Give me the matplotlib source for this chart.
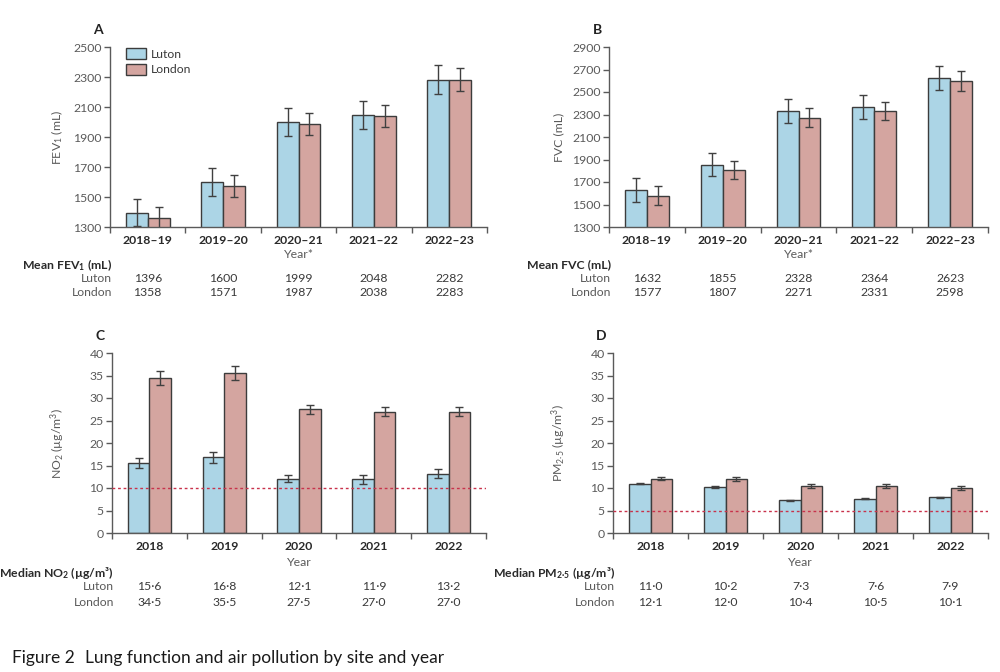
import matplotlib
matplotlib.use('Agg')
import matplotlib.pyplot as plt
from matplotlib import transforms
import numpy as np

plt.rcParams['font.family'] = ['Lato', 'DejaVu Sans']
plt.rcParams['mathtext.fontset'] = 'custom'
plt.rcParams['mathtext.rm'] = 'Lato'
plt.rcParams['mathtext.bf'] = 'Lato:bold'
plt.rcParams['mathtext.it'] = 'Lato:italic'

# data
years_lung = ['2018–19', '2019–20', '2020–21', '2021–22', '2022–23']
years_air = ['2018', '2019', '2020', '2021', '2022']

fev1_luton = [1396, 1600, 1999, 2048, 2282]
fev1_london = [1358, 1571, 1987, 2038, 2283]
fev1_luton_err = [92, 92, 93, 93, 96]
fev1_london_err = [72, 74, 75, 74, 75]

fvc_luton = [1632, 1855, 2328, 2364, 2623]
fvc_london = [1577, 1807, 2271, 2331, 2598]
fvc_luton_err = [107, 106, 106, 105, 109]
fvc_london_err = [85, 83, 84, 83, 85]

no2_luton = [15.6, 16.8, 12.1, 11.9, 13.2]
no2_london = [34.5, 35.5, 27.5, 27.0, 27.0]
no2_luton_err = [1.1, 1.2, 0.75, 0.9, 1.0]
no2_london_err = [1.6, 1.6, 0.95, 1.0, 1.0]

pm25_luton = [11.0, 10.2, 7.3, 7.6, 7.9]
pm25_london = [12.1, 12.0, 10.4, 10.5, 10.1]
pm25_luton_err = [0.15, 0.15, 0.1, 0.1, 0.1]
pm25_london_err = [0.4, 0.45, 0.4, 0.45, 0.45]

no2_limit = 10
pm25_limit = 5

BLUE = '#acd5e6'
PINK = '#d4a5a0'
EDGE = '#3c3c3c'
GREY = '#5a5a5a'
RED = '#c8324b'

fig = plt.figure(figsize=(10, 6.72), dpi=100)


def fy(py):
    return 1 - py / 672.0


def panel(left, right, top, bottom, letter, cats, luton, london, lerr, derr,
          ylim, ystep, ylabel, xlabel, header, fmt, rows_y, limit=None, legend=False):
    ax = fig.add_axes([left / 1000, fy(bottom), (right - left) / 1000, (bottom - top) / 672])
    x = np.arange(len(cats))
    w = 0.29
    ekw = dict(ecolor='#404040', elinewidth=1, capsize=3, capthick=1)
    ax.bar(x - w / 2, luton, w, bottom=0, color=BLUE, edgecolor=EDGE, linewidth=1,
           yerr=lerr, error_kw=ekw, label='Luton', zorder=2)
    ax.bar(x + w / 2, london, w, bottom=0, color=PINK, edgecolor=EDGE, linewidth=1,
           yerr=derr, error_kw=ekw, label='London', zorder=2)
    if limit is not None:
        ax.axhline(limit, color=RED, linestyle=(0, (2, 2)), linewidth=1, zorder=3)
    ax.set_xlim(-0.5, len(cats) - 0.5)
    ax.set_ylim(*ylim)
    ax.set_yticks(np.arange(ylim[0], ylim[1] + 1, ystep))
    ax.set_xticks(np.arange(-0.5, len(cats), 1))
    ax.set_xticklabels([])
    ax.set_xticks(x, minor=True)
    ax.set_xticklabels(cats, minor=True, fontweight='bold', fontsize=8.8, color='#2a2a2a')
    ax.tick_params(axis='x', which='minor', length=0, pad=6)
    ax.tick_params(axis='x', which='major', length=4, color=GREY, width=1)
    ax.tick_params(axis='y', length=4, color=GREY, width=1, labelsize=8.8,
                   labelcolor=GREY, pad=2)
    for s in ['top', 'right']:
        ax.spines[s].set_visible(False)
    for s in ['left', 'bottom']:
        ax.spines[s].set_color(GREY)
        ax.spines[s].set_linewidth(1)
    ax.set_ylabel(ylabel, fontsize=8.8, color=GREY)
    ax.yaxis.set_label_coords(-45 / (right - left), 0.5)
    fig.text((left + right) / 2000, fy(rows_y[0]), xlabel, ha='center', va='center',
             fontsize=8.8, color=GREY)
    fig.text(left / 1000 - 0.012, fy(top - 17), letter, ha='center', va='center',
             fontsize=10, fontweight='bold', color='#222222')
    # table under the axis
    tr = transforms.blended_transform_factory(ax.transData, fig.transFigure)
    fig.text(left / 1000 + 0.002, fy(rows_y[1]), header, ha='right', va='center',
             fontsize=8.8, fontweight='bold', color='#2a2a2a')
    fig.text(left / 1000 + 0.002, fy(rows_y[2]), 'Luton', ha='right', va='center',
             fontsize=8.8, color=GREY)
    fig.text(left / 1000 + 0.002, fy(rows_y[3]), 'London', ha='right', va='center',
             fontsize=8.8, color=GREY)
    for i in range(len(cats)):
        ax.text(i, fy(rows_y[2]), fmt(luton[i]), transform=tr, ha='center', va='center',
                fontsize=8.8, color='#3a3a3a')
        ax.text(i, fy(rows_y[3]), fmt(london[i]), transform=tr, ha='center', va='center',
                fontsize=8.8, color='#3a3a3a')
    if legend:
        ax.legend(loc='upper left', bbox_to_anchor=(0.02, 1.04), frameon=False,
                  fontsize=8.8, handlelength=1.6, handleheight=1.0, handletextpad=0.4,
                  labelspacing=0.3, borderpad=0.2, labelcolor='#3a3a3a')
    return ax


def int_fmt(v):
    return '%d' % v


def dot_fmt(v):
    return ('%.1f' % v).replace('.', '·')


panel(110, 487, 47, 227, 'A', years_lung, fev1_luton, fev1_london,
      fev1_luton_err, fev1_london_err, (1300, 2500), 200,
      'FEV$_1$ (mL)', 'Year*', r'Mean FEV$_\mathbf{1}$ (mL)', int_fmt,
      (254, 265, 279, 293), legend=True)
panel(609, 988, 47, 227, 'B', years_lung, fvc_luton, fvc_london,
      fvc_luton_err, fvc_london_err, (1300, 2900), 200,
      'FVC (mL)', 'Year*', 'Mean FVC (mL)', int_fmt,
      (254, 265, 279, 293))
panel(112, 486, 353, 533, 'C', years_air, no2_luton, no2_london,
      no2_luton_err, no2_london_err, (0, 40), 5,
      'NO$_2$ (µg/m$^3$)', 'Year', r'Median NO$_\mathbf{2}$ (µg/m³)', dot_fmt,
      (562, 573, 587, 602), limit=no2_limit)
panel(613, 988, 353, 533, 'D', years_air, pm25_luton, pm25_london,
      pm25_luton_err, pm25_london_err, (0, 40), 5,
      'PM$_{2·5}$ (µg/m$^3$)', 'Year', r'Median PM$_\mathbf{2·5}$ (µg/m³)', dot_fmt,
      (562, 573, 587, 602), limit=pm25_limit)

fig.text(0.012, fy(658), 'Figure 2', ha='left', va='center', fontsize=12.5, color='#1a1a1a')
fig.text(0.085, fy(658), 'Lung function and air pollution by site and year', ha='left',
         va='center', fontsize=12.5, color='#1a1a1a')

fig.savefig('out.png', dpi=100)
